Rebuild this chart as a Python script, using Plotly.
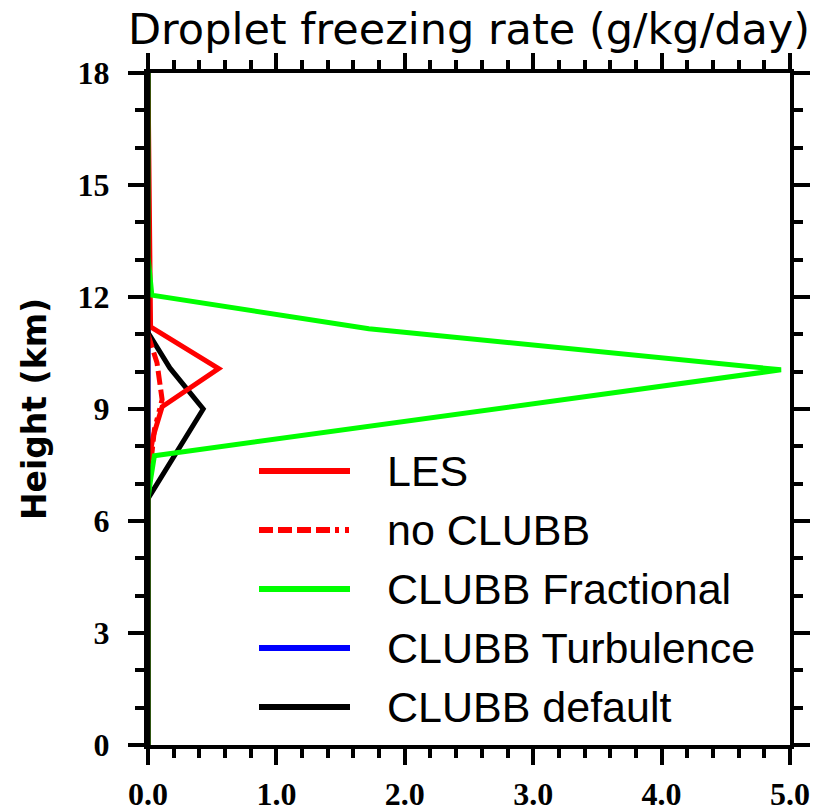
import plotly.graph_objects as go

# ---- data ----
les_x = [0.0, 0.01, 0.02, 0.55, 0.11, 0.04, 0.0, 0.0]
les_y = [18.0, 12.5, 11.2, 10.08, 9.06, 8.26, 7.5, 0.0]

noclubb_x = [0.0, 0.07, 0.11, 0.05, 0.03, 0.0]
noclubb_y = [11.0, 10.24, 9.25, 8.45, 7.8, 7.0]

frac_x = [0.0, 0.0, 0.03, 1.72, 4.93, 0.05, 0.02, 0.0, 0.0]
frac_y = [18.0, 13.1, 12.05, 11.15, 10.05, 7.75, 7.1, 6.6, 0.0]

turb_x = [0.0, 0.0, 0.0]
turb_y = [18.0, 9.0, 0.0]

default_x = [0.0, 0.0, 0.17, 0.43, 0.0, 0.0]
default_y = [18.0, 11.05, 10.1, 9.0, 6.6, 0.0]

series_names = ["LES", "no CLUBB", "CLUBB Fractional", "CLUBB Turbulence", "CLUBB default"]
series_colors = ["#ff0000", "#ff0000", "#00ff00", "#0000ff", "#000000"]
series_dash = ["solid", "14px,5px,14px,5px,14px,5px,14px,5px,4px,6px,4px,6px", "solid", "solid", "solid"]

x_ticks = [0, 1, 2, 3, 4, 5]
y_ticks = [0, 3, 6, 9, 12, 15, 18]

title_text = "Droplet freezing rate (g/kg/day)"
ytitle_text = "Height (km)"

# ---- figure ----
fig = go.Figure()
data = [(les_x, les_y), (noclubb_x, noclubb_y), (frac_x, frac_y),
        (turb_x, turb_y), (default_x, default_y)]
order = [3, 4, 1, 0, 2]
for i in order:
    xs, ys = data[i]
    fig.add_trace(go.Scatter(
        x=xs, y=ys, mode="lines", name=series_names[i],
        line=dict(color=series_colors[i], width=5, dash=series_dash[i]),
        showlegend=False))

# page body has an 8px margin, so the figure is 8px smaller on each axis
OFF = 8
L, R, T, B = 148 - OFF, 48, 73 - OFF, 67
W, H = 838 - OFF, 812 - OFF
pw, ph = W - L - R, H - T - B

tickfont = dict(family="Liberation Serif", size=32, color="black", weight="bold")
common = dict(showline=True, linecolor="black", linewidth=4, mirror="allticks",
              ticks="outside", ticklen=16, tickwidth=4, tickcolor="black",
              showgrid=False, zeroline=False, tickfont=tickfont,
              automargin=False)

fig.update_xaxes(range=[0, 5], tickvals=x_ticks, tickformat=".1f",
                 ticklabelstandoff=2,
                 minor=dict(dtick=0.2, ticks="outside", ticklen=9, tickwidth=4,
                            tickcolor="black", showgrid=False),
                 **common)
fig.update_yaxes(range=[0, 18], tickvals=y_ticks, ticklabelstandoff=12,
                 minor=dict(dtick=1, ticks="outside", ticklen=9, tickwidth=4,
                            tickcolor="black", showgrid=False),
                 title=dict(text=ytitle_text,
                            font=dict(family="DejaVu Sans", size=33, color="black", weight="bold"),
                            standoff=22),
                 **common)

# inner cover of the left frame edge (the frame hides the zero-value lines)
shapes = [dict(type="line", xref="x domain", yref="y domain", x0=1.2 / pw, x1=1.2 / pw,
               y0=0, y1=1, line=dict(color="black", width=2.4), layer="above")]

# manual legend (line samples + labels), positions in reference page pixels
leg_rows_px = [471, 530, 589, 648, 707]
x0 = (259 - 148) / pw
x1 = (350 - 148) / pw
xt = (385 - 148) / pw
annotations = []
for i, py in enumerate(leg_rows_px):
    yp = (745 - py) / ph
    shapes.append(dict(type="line", xref="paper", yref="paper", x0=x0, x1=x1, y0=yp, y1=yp,
                       line=dict(color=series_colors[i], width=6, dash=series_dash[i])))
    annotations.append(dict(xref="paper", yref="paper", x=xt, y=yp, xanchor="left", yanchor="middle",
                            text=series_names[i], showarrow=False,
                            font=dict(family="Liberation Sans", size=43, color="black")))

fig.update_layout(
    width=W, height=H,
    margin=dict(l=L, r=R, t=T, b=B, pad=0, autoexpand=False),
    paper_bgcolor="white", plot_bgcolor="white",
    title=dict(text=title_text, x=0.5, xref="paper", xanchor="center",
               y=1 - (29 - OFF) / H, yref="container", yanchor="middle",
               font=dict(family="DejaVu Sans", size=43, color="black")),
    shapes=shapes, annotations=annotations, showlegend=False,
)

fig.write_html("out.html")
